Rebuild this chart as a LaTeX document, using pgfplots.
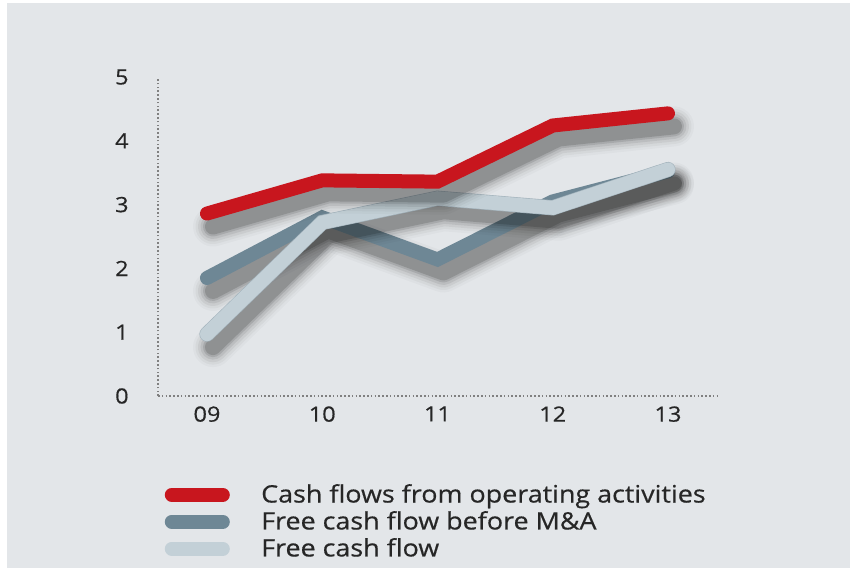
\documentclass[border=0pt]{standalone}
\usepackage{fontspec}
\setmainfont{Open Sans}[FakeStretch=1.12, FakeBold=0.5]
\usepackage{pgfplots}
\pgfplotsset{compat=1.18}
\definecolor{bgc}{HTML}{E3E6E9}
\definecolor{cred}{HTML}{C8161E}
\definecolor{cdark}{HTML}{6E8795}
\definecolor{clight}{HTML}{C3D0D7}
\definecolor{clightedge}{HTML}{A3B3BC}
\definecolor{ctxt}{HTML}{262626}
\pgfplotstableread{
x y
0 2.86
1 3.38
2 3.36
3 4.24
4 4.43
}\red
\pgfplotstableread{
x y
0 1.85
1 2.80
2 2.14
3 3.05
4 3.52
}\dark
\pgfplotstableread{
x y
0 0.97
1 2.72
2 3.10
3 2.95
4 3.55
}\light
\pgfplotsset{
  shad/.style={forget plot, black, line cap=round, line join=round, xshift=3pt, yshift=-6.5pt},
}
\begin{document}
\begin{tikzpicture}
\useasboundingbox (0,0) rectangle (425pt,284.5pt);
\fill[white] (0,0) rectangle (425pt,284.5pt);
\fill[bgc] (3.5pt,0.5pt) rectangle (425pt,283pt);
\begin{axis}[
  at={(79pt,86.5pt)}, anchor=south west,
  scale only axis, width=280pt, height=159.5pt,
  xmin=-0.425, xmax=4.434, ymin=0, ymax=5,
  axis x line*=bottom, axis y line*=left,
  axis line style={gray, line width=0.8pt, dash pattern=on 0.8pt off 1.1pt, -},
  major tick length=0pt,
  xtick={0,1,2,3,4}, xticklabels={09,10,11,12,13},
  ytick={0,1,2,3,4,5},
  /pgf/number format/assume math mode=true,
  ticklabel style={font=\fontsize{10.5}{12}\selectfont, text=ctxt, inner sep=0pt},
  xticklabel style={anchor=north, yshift=-5pt},
  yticklabel style={anchor=east, xshift=-14.5pt},
  clip=false,
  legend cell align=left,
  legend style={at={(axis description cs:0.0,-0.25)}, anchor=north west, draw=none, fill=none,
    font=\fontsize{12}{13.5}\selectfont, text=ctxt, row sep=-1.2pt,
    /tikz/every odd column/.append style={column sep=13.5pt}},
  legend image code/.code={
    \path (0pt,0pt) (32.5pt,0pt);
    \draw[#1, line width=7pt, line cap=round] (3.5pt,0pt) -- (29pt,0pt);
  },
]
% dark series
\addplot[shad, opacity=0.025, line width=20pt] table {\dark};
\addplot[shad, opacity=0.035, line width=17.5pt] table {\dark};
\addplot[shad, opacity=0.05, line width=15pt] table {\dark};
\addplot[shad, opacity=0.07, line width=12.5pt] table {\dark};
\addplot[shad, opacity=0.10, line width=10pt] table {\dark};
\addplot[shad, opacity=0.14, line width=8pt] table {\dark};
\addplot[cdark, line width=7pt, line cap=round, forget plot] table {\dark};
% light series
\addplot[shad, opacity=0.025, line width=20pt] table {\light};
\addplot[shad, opacity=0.035, line width=17.5pt] table {\light};
\addplot[shad, opacity=0.05, line width=15pt] table {\light};
\addplot[shad, opacity=0.07, line width=12.5pt] table {\light};
\addplot[shad, opacity=0.10, line width=10pt] table {\light};
\addplot[shad, opacity=0.14, line width=8pt] table {\light};
\addplot[clightedge, line width=7.6pt, line cap=round, forget plot] table {\light};
\addplot[clight, line width=7pt, line cap=round, forget plot] table {\light};
% red series
\addplot[shad, opacity=0.025, line width=20pt] table {\red};
\addplot[shad, opacity=0.035, line width=17.5pt] table {\red};
\addplot[shad, opacity=0.05, line width=15pt] table {\red};
\addplot[shad, opacity=0.07, line width=12.5pt] table {\red};
\addplot[shad, opacity=0.10, line width=10pt] table {\red};
\addplot[shad, opacity=0.14, line width=8pt] table {\red};
\addplot[cred, line width=7pt, line cap=round, forget plot] table {\red};
% legend entries
\addlegendimage{cred}
\addlegendentry{Cash flows from operating activities}
\addlegendimage{cdark}
\addlegendentry{Free cash flow before M\&A}
\addlegendimage{clight}
\addlegendentry{Free cash flow}
\end{axis}
\end{tikzpicture}
\end{document}
